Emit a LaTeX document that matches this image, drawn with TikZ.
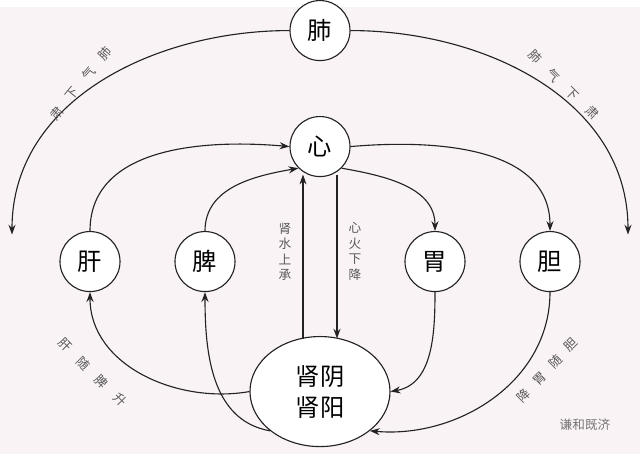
\documentclass[tikz,border=0pt]{standalone}
\usepackage{fontspec}
\setmainfont{Noto Sans CJK SC}
\usetikzlibrary{arrows.meta,shapes.geometric}
\definecolor{bgcolor}{RGB}{250,243,245}
\definecolor{inkcolor}{RGB}{35,35,35}

\begin{document}
\begin{tikzpicture}[
    x=0.025cm, y=-0.025cm,
    organ/.style={circle, draw=inkcolor, thick, fill=white, minimum size=1.5cm, font=\LARGE, inner sep=0pt},
    kidney/.style={ellipse, draw=inkcolor, thick, fill=white, minimum width=3.5cm, minimum height=2.75cm, font=\LARGE, align=center, inner sep=0pt},
    arrow/.style={-{Stealth[length=7pt,width=5pt]}, thick, draw=inkcolor},
    note/.style={font=\small, text=black!65, align=center}
]
\fill[bgcolor] (0,0) rectangle (640,447);

% Organs
\node[organ] (fei) at (320,24) {肺};
\node[organ] (xin) at (320,140) {心};
\node[organ] (gan) at (90,255) {肝};
\node[organ] (pi) at (205,255) {脾};
\node[organ] (wei) at (435,255) {胃};
\node[organ] (dan) at (550,255) {胆};
\node[kidney] (shen) at (320,385) {肾阴\\肾阳};

\coordinate (leftend) at (12,228);
\coordinate (rightend) at (628,228);
\coordinate (upfoot) at (303,332);
\coordinate (uphead) at (303,168);
\coordinate (downfoot) at (337,168);
\coordinate (downhead) at (337,332);

% Lung descending
\draw[arrow] (fei.west) to[out=180,in=90] (leftend);
\draw[arrow] (fei.east) to[out=0,in=90] (rightend);

% Rising to heart
\draw[arrow] (gan.north) to[out=90,in=175] (xin.west);
\draw[arrow] (pi.north) to[out=90,in=190] (xin.south west);
\draw[arrow] (xin.east) to[out=5,in=90] (dan.north);
\draw[arrow] (xin.south east) to[out=-10,in=90] (wei.north);

% Heart and kidney
\draw[arrow] (upfoot) -- (uphead);
\draw[arrow] (downfoot) -- (downhead);

% Lower loops
\draw[arrow] (shen.west) to[out=190,in=-90] (gan.south);
\draw[arrow] (shen.south west) to[out=170,in=-90] (pi.south);
\draw[arrow] (wei.south) to[out=-90,in=10] (shen.east);
\draw[arrow] (dan.south) to[out=-90,in=-5] (shen.south east);

% Labels
\node[note] (l1) at (285,245) {肾\\水\\上\\承};
\node[note] (l2) at (355,245) {心\\火\\下\\降};
\foreach \ch/\x/\y [count=\i] in {肺/105/47, 气/89/67, 下/72/87, 肃/57/107}
  \node[note, rotate=50] (fl\i) at (\x,\y) {\ch};
\foreach \ch/\x/\y [count=\i] in {肺/535/50, 气/553/69, 下/572/87, 肃/592/106}
  \node[note, rotate=-45] (fr\i) at (\x,\y) {\ch};
\foreach \ch/\x/\y [count=\i] in {肝/65/338, 随/83/357, 脾/101/375, 升/120/393}
  \node[note, rotate=-45] (gl\i) at (\x,\y) {\ch};
\foreach \ch/\x/\y [count=\i] in {胆/571/338, 随/556/355, 胃/540/372, 降/524/389}
  \node[note, rotate=45] (dr\i) at (\x,\y) {\ch};
\node[note, text=black!55] (wm) at (585,418) {谦和既济};
\end{tikzpicture}
\end{document}
